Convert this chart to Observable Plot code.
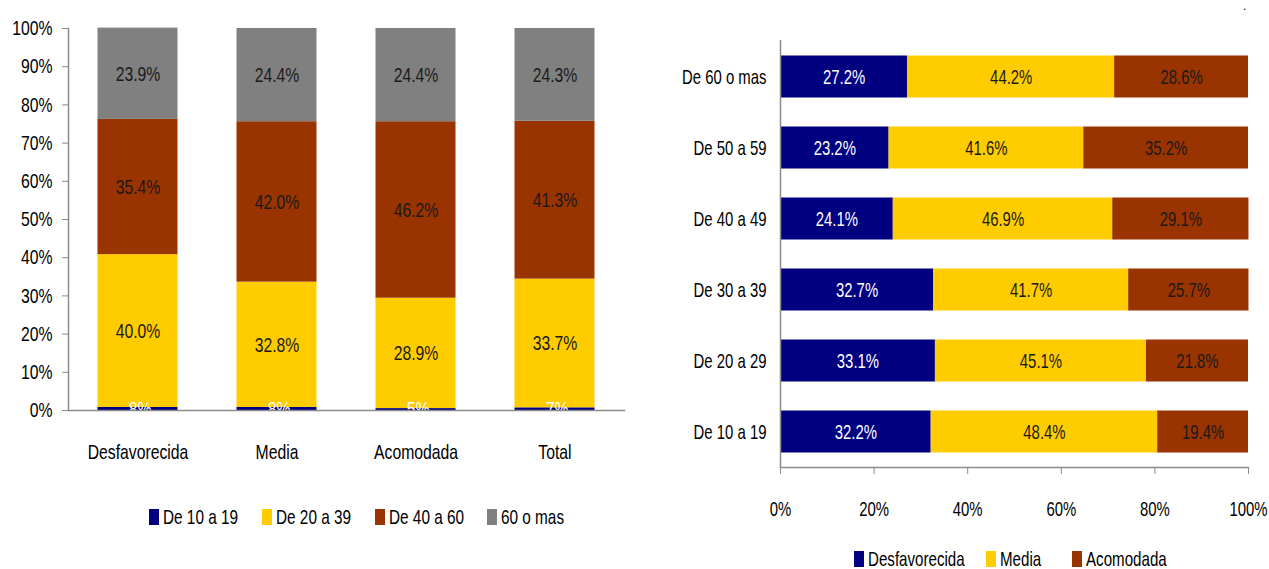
<!DOCTYPE html>
<html>
<head>
<meta charset="utf-8">
<script src="https://cdn.jsdelivr.net/npm/d3@7"></script>
<script src="https://cdn.jsdelivr.net/npm/@observablehq/plot@0.6"></script>
<style>
  html, body { margin: 0; padding: 0; background: #fff; width: 1269px; height: 569px; overflow: hidden; }
  body { position: relative; font-family: "Liberation Sans", Arial, sans-serif; }
  #left { position: absolute; left: 0; top: 0; }
  #right { position: absolute; left: 660px; top: 0; }
  .litem { position: absolute; height: 22px; display: flex; align-items: center; font-size: 21px; color: #000; white-space: nowrap; }
  .litem .sw { display: inline-block; width: 10px; height: 16px; margin-right: 4px; flex: none; }
  .litem .tx { display: inline-block; transform-origin: left center; }
  #dot { position: absolute; left: 1243px; top: 0px; font-size: 12px; line-height: 12px; }
</style>
</head>
<body>
<div id="left"></div>
<div id="right"></div>
<div id="legends"></div>
<div id="dot">.</div>
<script>
// ---------- Left chart data ----------
const categories = ["Desfavorecida", "Media", "Acomodada", "Total"];
const ageGroups = ["De 10 a 19", "De 20 a 39", "De 40 a 60", "60 o mas"];
const ageColors = ["#000080", "#FFCC00", "#993300", "#808080"];
const v10a19 = [0.8, 0.8, 0.5, 0.7];
const v20a39 = [40.0, 32.8, 28.9, 33.7];
const v40a60 = [35.4, 42.0, 46.2, 41.3];
const v60mas = [23.9, 24.4, 24.4, 24.3];
const yTicksLeft = [0, 10, 20, 30, 40, 50, 60, 70, 80, 90, 100];

// ---------- Right chart data ----------
const ageRows = ["De 60 o mas", "De 50 a 59", "De 40 a 49", "De 30 a 39", "De 20 a 29", "De 10 a 19"];
const classes = ["Desfavorecida", "Media", "Acomodada"];
const classColors = ["#000080", "#FFCC00", "#993300"];
const vDesfavorecida = [27.2, 23.2, 24.1, 32.7, 33.1, 32.2];
const vMedia = [44.2, 41.6, 46.9, 41.7, 45.1, 48.4];
const vAcomodada = [28.6, 35.2, 29.1, 25.7, 21.8, 19.4];
const xTicksRight = [0, 20, 40, 60, 80, 100];

const fmt = v => v < 1 ? String(v).slice(1) + "%" : v.toFixed(1) + "%";
const FONT = '"Liberation Sans", Arial, sans-serif';

// Build tables
const leftSeries = [v10a19, v20a39, v40a60, v60mas];
const leftData = [];
categories.forEach((c, i) => ageGroups.forEach((g, j) => leftData.push({cat: c, group: g, value: leftSeries[j][i]})));

const rightSeries = [vDesfavorecida, vMedia, vAcomodada];
const rightData = [];
ageRows.forEach((r, i) => classes.forEach((k, j) => rightData.push({row: r, cls: k, value: rightSeries[j][i]})));

// condense text horizontally (the reference uses a narrow face)
function condense(svg, s) {
  svg.querySelectorAll("text").forEach(t => {
    const ax = parseFloat(t.getAttribute("x")) || 0;
    const tr = t.getAttribute("transform") || "";
    t.setAttribute("transform", `${tr} translate(${ax},0) scale(${s},1) translate(${-ax},0)`.trim());
  });
}

// ---------- Left plot ----------
const left = Plot.plot({
  width: 640, height: 470,
  marginLeft: 68, marginRight: 16, marginTop: 28, marginBottom: 60,
  style: {fontFamily: FONT, fontSize: "21px", color: "#000", background: "transparent"},
  x: {domain: categories, padding: 0, label: null},
  y: {domain: [0, 100], label: null},
  color: {domain: ageGroups, range: ageColors},
  marks: [
    Plot.barY(leftData, Plot.stackY({x: "cat", y: "value", fill: "group", z: "group", order: ageGroups, insetLeft: 29.5, insetRight: 29.5})),
    Plot.text(leftData, Plot.stackY({x: "cat", y: "value", z: "group", order: ageGroups,
      text: d => d.group === ageGroups[0] ? fmt(d.value) : "", fill: "white", fontSize: 21})),
    Plot.text(leftData, Plot.stackY({x: "cat", y: "value", z: "group", order: ageGroups,
      text: d => d.group === ageGroups[0] ? "" : fmt(d.value), fill: "#1a1a1a", fontSize: 21})),
    Plot.frame({anchor: "left", stroke: "#8c8c8c", strokeWidth: 1.5}),
    Plot.frame({anchor: "bottom", stroke: "#8c8c8c", strokeWidth: 1.5}),
    Plot.axisY({ticks: yTicksLeft, tickFormat: d => d + "%", tickSize: 6, tickPadding: 10, stroke: "#8c8c8c", fill: "#000", fontSize: 21, label: null}),
    Plot.axisX({tickSize: 0, tickPadding: 34, fill: "#000", fontSize: 21, label: null})
  ]
});
document.getElementById("left").appendChild(left);
condense(left, 0.75);

// ---------- Right plot ----------
const right = Plot.plot({
  width: 609, height: 540,
  marginLeft: 120, marginRight: 21, marginTop: 40, marginBottom: 73,
  style: {fontFamily: FONT, fontSize: "21px", color: "#000", background: "transparent"},
  x: {domain: [0, 100], label: null},
  y: {domain: ageRows, padding: 0, label: null},
  color: {domain: classes, range: classColors},
  marks: [
    Plot.barX(rightData, Plot.stackX({y: "row", x: "value", fill: "cls", z: "cls", order: classes, insetTop: 14.5, insetBottom: 14.5})),
    Plot.text(rightData, Plot.stackX({y: "row", x: "value", z: "cls", order: classes,
      text: d => d.cls === classes[0] ? fmt(d.value) : "", fill: "white", fontSize: 21})),
    Plot.text(rightData, Plot.stackX({y: "row", x: "value", z: "cls", order: classes,
      text: d => d.cls === classes[0] ? "" : fmt(d.value), fill: "#1a1a1a", fontSize: 21})),
    Plot.ruleX([0], {stroke: "#8c8c8c", strokeWidth: 1.5}),
    Plot.frame({anchor: "bottom", stroke: "#8c8c8c", strokeWidth: 1.5}),
    Plot.axisX({ticks: xTicksRight, tickFormat: d => d + "%", tickSize: 7, tickPadding: 27, stroke: "#8c8c8c", fill: "#000", fontSize: 21, label: null}),
    Plot.axisY({tickSize: 0, tickPadding: 14, fill: "#000", fontSize: 21, label: null})
  ]
});
document.getElementById("right").appendChild(right);
condense(right, 0.71);

// ---------- Legends ----------
function legend(names, colors, xs, y, s) {
  const host = document.getElementById("legends");
  names.forEach((n, i) => {
    const it = document.createElement("div");
    it.className = "litem";
    it.style.left = xs[i] + "px";
    it.style.top = (y - 11) + "px";
    const sw = document.createElement("span");
    sw.className = "sw";
    sw.style.background = colors[i];
    const tx = document.createElement("span");
    tx.className = "tx";
    tx.style.transform = `scaleX(${s})`;
    tx.textContent = n;
    it.appendChild(sw);
    it.appendChild(tx);
    host.appendChild(it);
  });
}
legend(ageGroups, ageColors, [149, 262, 375, 487], 517, 0.73);
legend(classes, classColors, [854, 986, 1072], 559, 0.72);
</script>
</body>
</html>
